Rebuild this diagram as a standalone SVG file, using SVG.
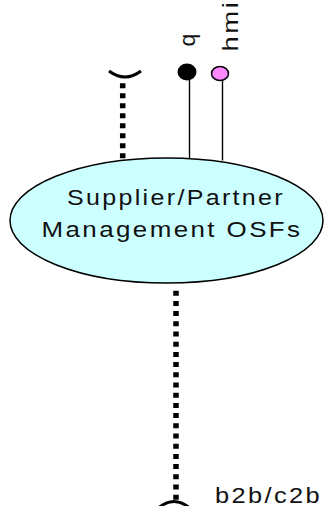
<svg xmlns="http://www.w3.org/2000/svg" width="325" height="506" viewBox="0 0 325 506">
<style>
.lbl{font-family:"Liberation Sans",Arial,sans-serif;font-size:21.5px;fill:#111;letter-spacing:2px}
.dot{stroke:#000;stroke-width:5.5;fill:none}
.stem{stroke:#000;stroke-width:1.4;fill:none}
.sock{stroke:#000;stroke-width:3;fill:none}
</style>
<rect width="325" height="506" fill="#fff"/>
<g id="connectors">
<line class="dot" x1="122.7" y1="83.3" x2="122.7" y2="158.5" stroke-dasharray="5 5"/>
<line class="dot" x1="176" y1="290.7" x2="176" y2="501" stroke-dasharray="5 5.2"/>
<line class="stem" x1="189.5" y1="80" x2="189.5" y2="158.8"/>
<line class="stem" x1="222.5" y1="80.5" x2="222.5" y2="160.5"/>
</g>
<g id="osf">
<ellipse cx="166.5" cy="220.5" rx="156.5" ry="62.5" fill="#ccffff" stroke="#000" stroke-width="1.5"/>
<text class="lbl" x="67" y="205" textLength="218" lengthAdjust="spacingAndGlyphs">Supplier/Partner</text>
<text class="lbl" x="41.5" y="237.3" textLength="261" lengthAdjust="spacingAndGlyphs">Management OSFs</text>
</g>
<g id="socket-top">
<path class="sock" d="M109,71 Q125,83 141,71"/>
</g>
<g id="q">
<ellipse cx="187" cy="72" rx="9.5" ry="8.5" fill="#000"/>
<text class="lbl" transform="translate(195.3,46.5) rotate(-90)" textLength="15" lengthAdjust="spacingAndGlyphs">q</text>
</g>
<g id="hmi">
<ellipse cx="220" cy="73.5" rx="8.5" ry="7" fill="#ff88ff" stroke="#000" stroke-width="1.5"/>
<text class="lbl" transform="translate(238.3,51.5) rotate(-90)" textLength="52" lengthAdjust="spacingAndGlyphs">hmi</text>
</g>
<g id="b2b">
<path class="sock" d="M157,509 Q174,494 191,509"/>
<text class="lbl" x="215" y="502.5" textLength="107" lengthAdjust="spacingAndGlyphs">b2b/c2b</text>
</g>
</svg>
